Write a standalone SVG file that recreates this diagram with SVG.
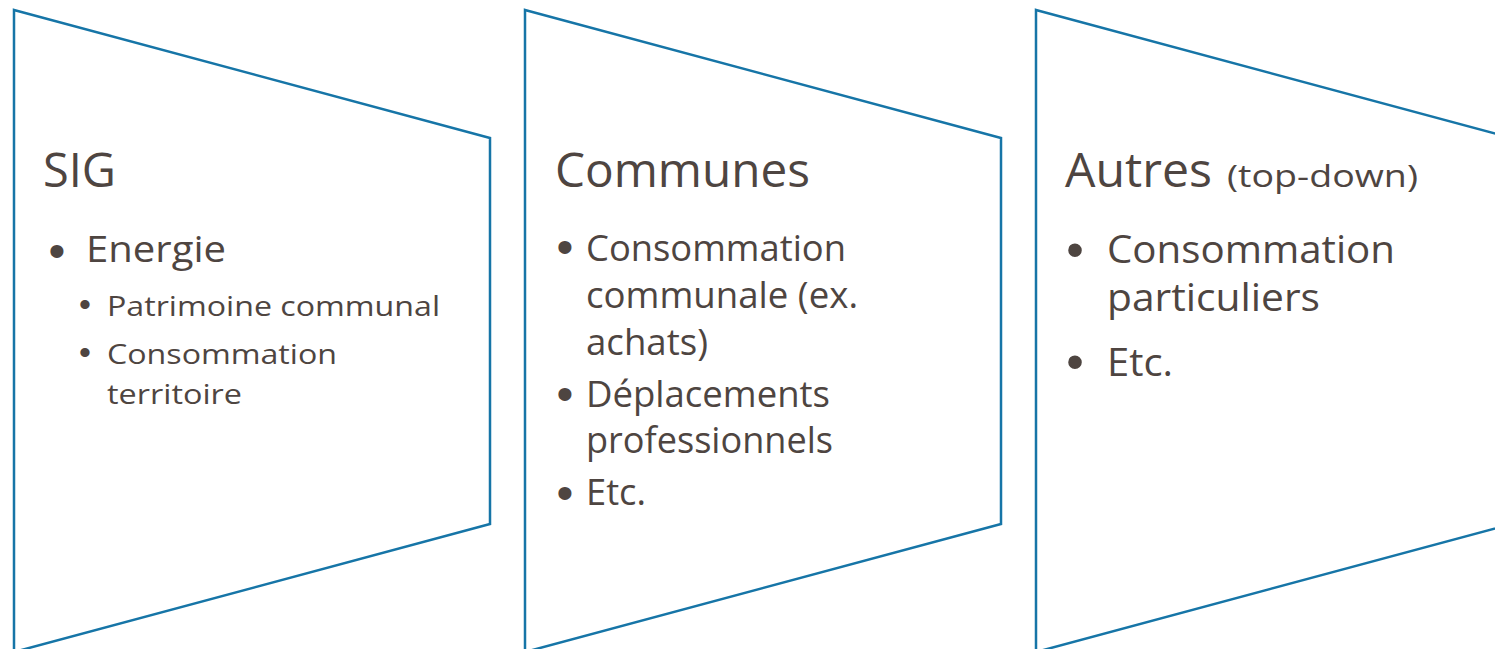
<svg xmlns="http://www.w3.org/2000/svg" width="1495" height="649" viewBox="0 0 1495 649">
<style>
.shape{fill:#ffffff;stroke:#1675A7;stroke-width:2.5;stroke-linejoin:miter}
text{font-family:"Open Sans","Noto Sans","Liberation Sans",sans-serif;fill:#4E4541}
.h{font-size:47px}
.s{font-size:31px}
.b1{font-size:37px}
.b2{font-size:28px}
.b3{font-size:38px}
.dot{text-anchor:middle;font-family:"Liberation Sans",Arial,sans-serif}
.d1{font-size:48px}
.d2{font-size:34px}
.d3{font-size:50px}
</style>
<rect width="1495" height="649" fill="#ffffff"/>
<g id="node-sig">
<polygon class="shape" points="14,10 490,138 490,524 14,652"/>
<text class="h" x="43" y="187" textLength="73" lengthAdjust="spacingAndGlyphs">SIG</text>
<text class="dot d1" x="57" y="267">•</text>
<text class="b1" x="86" y="262" textLength="140" lengthAdjust="spacingAndGlyphs">Energie</text>
<text class="dot d2" x="85" y="316">•</text>
<text class="b2" x="107" y="316" textLength="333" lengthAdjust="spacingAndGlyphs">Patrimoine communal</text>
<text class="dot d2" x="85" y="364">•</text>
<text class="b2" x="107" y="364" textLength="230" lengthAdjust="spacingAndGlyphs">Consommation</text>
<text class="b2" x="107" y="404" textLength="135" lengthAdjust="spacingAndGlyphs">territoire</text>
</g>
<g id="node-communes">
<polygon class="shape" points="525,10 1001,138 1001,524 525,652"/>
<text class="h" x="555" y="187" textLength="255" lengthAdjust="spacingAndGlyphs">Communes</text>
<text class="dot d1" x="565" y="263">•</text>
<text class="b1" x="586" y="261" textLength="260" lengthAdjust="spacingAndGlyphs">Consommation</text>
<text class="b1" x="586" y="308" textLength="272" lengthAdjust="spacingAndGlyphs">communale (ex.</text>
<text class="b1" x="586" y="355" textLength="122" lengthAdjust="spacingAndGlyphs">achats)</text>
<text class="dot d1" x="565" y="410">•</text>
<text class="b1" x="586" y="407" textLength="244" lengthAdjust="spacingAndGlyphs">Déplacements</text>
<text class="b1" x="586" y="453" textLength="247" lengthAdjust="spacingAndGlyphs">professionnels</text>
<text class="dot d1" x="565" y="509">•</text>
<text class="b1" x="586" y="505" textLength="60" lengthAdjust="spacingAndGlyphs">Etc.</text>
</g>
<g id="node-autres">
<polygon class="shape" points="1036,10 1512,138 1512,524 1036,652"/>
<text class="h" x="1065" y="187" textLength="147" lengthAdjust="spacingAndGlyphs">Autres</text>
<text class="s" x="1227" y="187" textLength="191" lengthAdjust="spacingAndGlyphs">(top-down)</text>
<text class="dot d3" x="1075" y="267">•</text>
<text class="b3" x="1107" y="263" textLength="288" lengthAdjust="spacingAndGlyphs">Consommation</text>
<text class="b3" x="1107" y="311" textLength="213" lengthAdjust="spacingAndGlyphs">particuliers</text>
<text class="dot d3" x="1075" y="379">•</text>
<text class="b3" x="1107" y="376" textLength="66" lengthAdjust="spacingAndGlyphs">Etc.</text>
</g>
<g id="connectors"></g>
</svg>
